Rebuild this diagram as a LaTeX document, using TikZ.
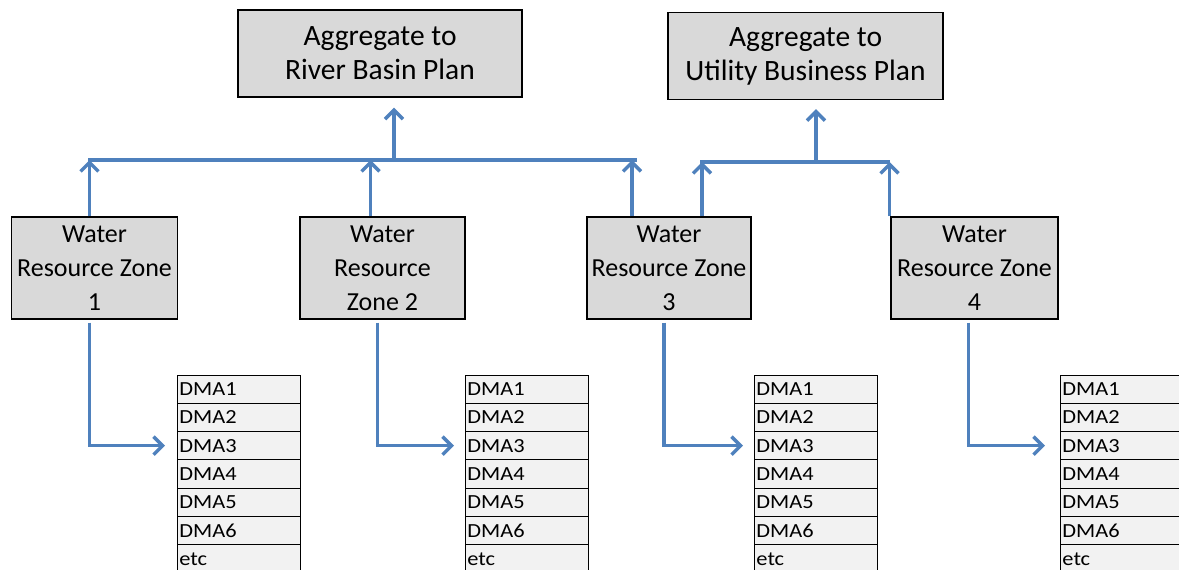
\documentclass[tikz,border=0pt]{standalone}
\usepackage{fontspec}
\setmainfont{Carlito}
\newfontfamily\cellfont[FakeStretch=1.12]{Carlito}
\usetikzlibrary{arrows.meta,calc}
\definecolor{flowblue}{HTML}{4F81BD}
\definecolor{boxgray}{HTML}{D9D9D9}
\definecolor{rowgray}{HTML}{F2F2F2}
\tikzset{
  planbox/.style={draw=black, line width=1.2pt, fill=boxgray, minimum width=284pt,
    minimum height=87pt, align=center, font=\fontsize{29.5}{34}\selectfont},
  zonebox/.style={draw=black, line width=1.2pt, fill=boxgray, minimum width=166pt,
    minimum height=102pt, align=center, font=\fontsize{26}{34}\selectfont},
  dmarow/.style={draw=black, line width=0.9pt, fill=rowgray, minimum width=123pt,
    minimum height=28.3pt, anchor=north west, text width=119pt, inner xsep=2pt,
    align=left, font=\cellfont\fontsize{20}{22}\selectfont},
  flow/.style={draw=flowblue, line width=3.5pt},
  flowarrow/.style={flow, -{Straight Barb[length=9pt,width=18pt,line width=3.5pt]}},
}
\begin{document}
\begin{tikzpicture}[x=1pt,y=-1pt]
\useasboundingbox (0,0) rectangle (1179,570);

% plan boxes
\node[planbox] (rbp) at (380,53.5) {Aggregate to\\River Basin Plan};
\node[planbox, minimum width=275pt] (ubp) at (805.5,56) {Aggregate to\\Utility Business Plan};

% water resource zones
\node[zonebox] (wrz1) at (94.5,268) {Water\\Resource Zone\\1};
\node[zonebox, minimum width=165pt] (wrz2) at (382.5,268) {Water\\Resource\\Zone 2};
\node[zonebox, minimum width=164pt] (wrz3) at (669,268) {Water\\Resource Zone\\3};
\node[zonebox, minimum width=167pt] (wrz4) at (974.5,268) {Water\\Resource Zone\\4};

% DMA lists
\foreach \t/\x in {1/177,2/465,3/754,4/1060}{
  \foreach \r/\lab in {1/DMA1,2/DMA2,3/DMA3,4/DMA4,5/DMA5,6/DMA6,7/etc}{
    \node[dmarow] (dma\t-\r) at (\x,{374.5+(\r-1)*28.3}) {\lab};
  }
}

% collecting buses
\coordinate (busL-w) at (88,160);
\coordinate (busL-e) at (637,160);
\coordinate (busR-w) at (700,162);
\coordinate (busR-e) at (890,162);
\draw[flow] (busL-w) -- (busL-e);
\draw[flow] (busR-w) -- (busR-e);
\coordinate (busL-mid) at (394,160);
\coordinate (busR-mid) at (816,162);
\draw[flowarrow] (busL-mid) -- ([yshift=-10pt]rbp.south -| busL-mid);
\draw[flowarrow] (busR-mid) -- ([yshift=-9pt]ubp.south -| busR-mid);

% zones up to the buses
\coordinate (w1up) at ([xshift=-5pt]wrz1.north);
\coordinate (w2up) at ([xshift=-12pt]wrz2.north);
\coordinate (w3upL) at ([xshift=-37pt]wrz3.north);
\coordinate (w3upR) at ([xshift=33pt]wrz3.north);
\coordinate (w4up) at ([xshift=-85pt]wrz4.north);
\draw[flowarrow] (w1up) -- (w1up |- busL-w);
\draw[flowarrow] (w2up) -- (w2up |- busL-w);
\draw[flowarrow] (w3upL) -- (w3upL |- busL-w);
\draw[flowarrow] (w3upR) -- (w3upR |- busR-w);
\draw[flowarrow] (w4up) -- (w4up |- busR-w);

% zones down to their DMA lists
\draw[flowarrow] ([xshift=-5pt,yshift=-3pt]wrz1.south) |- ([xshift=-12pt]dma1-3.west);
\draw[flowarrow] ([xshift=-5pt,yshift=-3pt]wrz2.south) |- ([xshift=-11pt]dma2-3.west);
\draw[flowarrow] ([xshift=-5pt,yshift=-3pt]wrz3.south) |- ([xshift=-11pt]dma3-3.west);
\draw[flowarrow] ([xshift=-6pt,yshift=-3pt]wrz4.south) |- ([xshift=-15pt]dma4-3.west);
\end{tikzpicture}
\end{document}
